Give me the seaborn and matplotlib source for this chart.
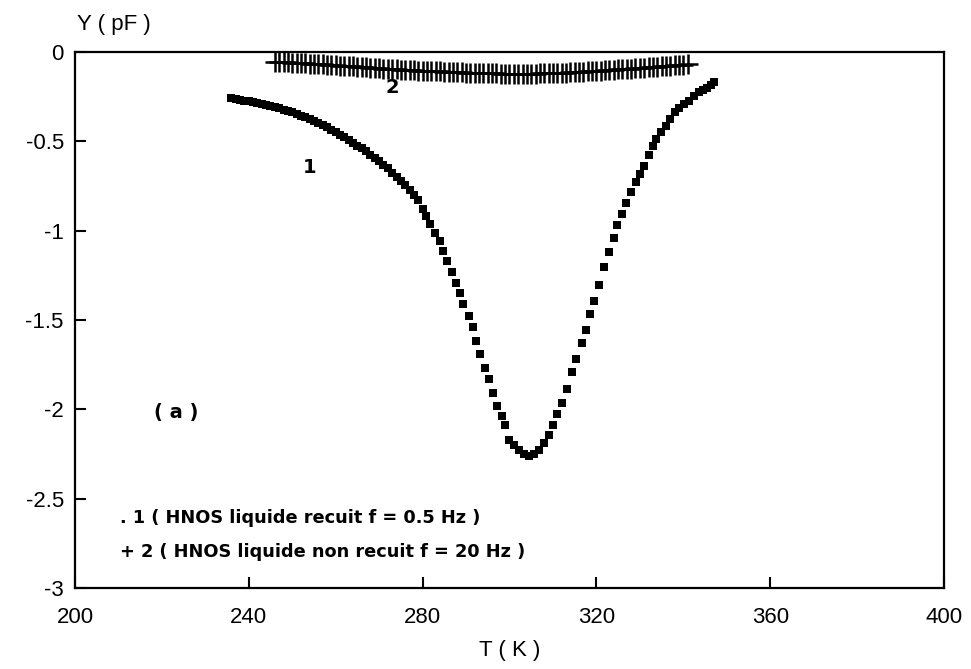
import matplotlib
matplotlib.use("Agg")
import matplotlib.pyplot as plt
import seaborn as sns
import pandas as pd

# ---- data ----
T1 = [236, 237, 238, 239, 240, 241, 242, 243, 244, 245, 246, 247, 248, 249, 250,
      251, 252, 253, 254, 255, 256, 257, 258, 259, 260, 261, 262, 263, 264, 265,
      266, 267, 268, 269, 270, 271, 272, 273, 274, 275, 276, 277, 278, 279,
      280.2, 280.9, 281.8, 282.8, 283.9, 284.8, 285.7, 286.7, 287.6, 288.5,
      289.4, 290.6, 291.5, 292.2, 293.1, 294.3, 295.2, 296.1, 297.2, 298.2,
      298.9, 300.0, 301.1, 302.1, 303.4, 304.6, 305.7, 306.9, 308.0, 309.2,
      310.1, 311.0, 312.2, 313.3, 314.5, 315.4, 316.6, 317.5, 318.6, 319.5,
      320.7, 321.8, 323.0, 324.1, 324.8, 326.0, 326.9, 328.0, 329.2, 330.1,
      331.0, 332.0, 333.1, 333.8, 334.9, 336.1, 337.0, 338.2, 339.1, 340.2,
      341.4, 342.5, 343.7, 344.6, 345.5, 346.3, 347.1]
Y1 = [-0.260, -0.265, -0.270, -0.272, -0.276, -0.280, -0.285, -0.290, -0.295, -0.300,
      -0.307, -0.315, -0.322, -0.330, -0.338, -0.347, -0.356, -0.365, -0.375, -0.386,
      -0.397, -0.409, -0.422, -0.435, -0.449, -0.463, -0.478, -0.493, -0.508, -0.524,
      -0.540, -0.557, -0.574, -0.591, -0.610, -0.630, -0.652, -0.675, -0.698, -0.722,
      -0.747, -0.773, -0.800, -0.830,
      -0.877, -0.916, -0.961, -1.011, -1.056, -1.112, -1.168, -1.229, -1.291, -1.347,
      -1.408, -1.475, -1.537, -1.615, -1.688, -1.766, -1.828, -1.909, -1.981, -2.037,
      -2.087, -2.171, -2.199, -2.227, -2.249, -2.260, -2.249, -2.227, -2.188, -2.143,
      -2.087, -2.026, -1.964, -1.886, -1.793, -1.720, -1.630, -1.558, -1.468, -1.396,
      -1.306, -1.205, -1.120, -1.041, -0.969, -0.907, -0.845, -0.784, -0.728, -0.683,
      -0.638, -0.576, -0.526, -0.487, -0.447, -0.414, -0.374, -0.335, -0.313, -0.290,
      -0.273, -0.245, -0.222, -0.212, -0.200, -0.185, -0.167]

T2 = list(range(246, 342))
Y2 = [-0.055, -0.056, -0.058, -0.058, -0.060, -0.061, -0.062, -0.064, -0.065, -0.066,
      -0.068, -0.069, -0.071, -0.072, -0.074, -0.076, -0.077, -0.079, -0.081, -0.083,
      -0.085, -0.086, -0.088, -0.090, -0.091, -0.093, -0.094, -0.096, -0.097, -0.099,
      -0.100, -0.101, -0.103, -0.104, -0.105, -0.106, -0.107, -0.108, -0.109, -0.110,
      -0.112, -0.113, -0.113, -0.114, -0.115, -0.116, -0.117, -0.118, -0.118, -0.119,
      -0.120, -0.120, -0.121, -0.121, -0.121, -0.122, -0.122, -0.122, -0.121, -0.121,
      -0.121, -0.120, -0.119, -0.119, -0.118, -0.117, -0.116, -0.115, -0.113, -0.112,
      -0.111, -0.110, -0.108, -0.107, -0.105, -0.104, -0.102, -0.101, -0.099, -0.098,
      -0.096, -0.095, -0.093, -0.091, -0.090, -0.088, -0.086, -0.084, -0.082, -0.081,
      -0.079, -0.077, -0.075, -0.073, -0.071, -0.070]

x_ticks = [200, 240, 280, 320, 360, 400]
y_ticks = [0, -0.5, -1, -1.5, -2, -2.5, -3]
y_tick_labels = ["0", "-0.5", "-1", "-1.5", "-2", "-2.5", "-3"]

legend_lines = [". 1 ( HNOS liquide recuit f = 0.5 Hz )",
                "+ 2 ( HNOS liquide non recuit f = 20 Hz )"]

# ---- plot ----
sns.set_theme(style="white")
plt.rcParams["font.family"] = ["Liberation Sans", "DejaVu Sans"]
plt.rcParams["axes.unicode_minus"] = False
plt.rcParams["text.color"] = "black"
plt.rcParams["axes.labelcolor"] = "black"
plt.rcParams["xtick.color"] = "black"
plt.rcParams["ytick.color"] = "black"

fig = plt.figure(figsize=(9.71, 6.69), dpi=100)
ax = fig.add_axes([0.0772, 0.1211, 0.8950, 0.8012])

df1 = pd.DataFrame({"T": T1, "Y": Y1})
df2 = pd.DataFrame({"T": T2, "Y": Y2})

sns.scatterplot(data=df1, x="T", y="Y", ax=ax, marker="s", s=28, color="black",
                linewidth=0, clip_on=False, zorder=3)
sns.scatterplot(data=df2, x="T", y="Y", ax=ax, marker="+", s=200, color="black",
                linewidth=1.8, clip_on=False, zorder=3)

ax.set_xlim(200, 400)
ax.set_ylim(-3, 0)
ax.set_xticks(x_ticks)
ax.set_xticklabels([str(v) for v in x_ticks])
ax.set_yticks(y_ticks)
ax.set_yticklabels(y_tick_labels)

for sp in ax.spines.values():
    sp.set_visible(True)
    sp.set_color("black")
    sp.set_linewidth(1.6)

ax.tick_params(axis="both", direction="in", length=8, width=1.5, colors="black",
               labelcolor="black", labelsize=16, top=False, right=False,
               bottom=True, left=True)
ax.tick_params(axis="x", pad=14)
ax.tick_params(axis="y", pad=8)

ax.set_xlabel("T ( K )", fontsize=16, labelpad=8, color="black")
ax.set_ylabel("")
fig.text(0.079, 0.964, "Y ( pF )", fontsize=16, ha="left", va="center", color="black")

bold_font = ["DejaVu Sans"]
ax.text(254.0, -0.644, "1", fontsize=14, fontweight="bold", family=bold_font,
        ha="center", va="center", color="black")
ax.text(273.1, -0.20, "2", fontsize=14, fontweight="bold", family=bold_font,
        ha="center", va="center", color="black")
ax.text(223.2, -2.017, "( a )", fontsize=14, fontweight="bold", family=bold_font,
        ha="center", va="center", color="black")

ax.text(210.3, -2.61, legend_lines[0], fontsize=12.8, fontweight="bold",
        family=bold_font, ha="left", va="center", color="black")
ax.text(210.3, -2.80, legend_lines[1], fontsize=12.8, fontweight="bold",
        family=bold_font, ha="left", va="center", color="black")

ax.grid(False)
fig.savefig("out.png", dpi=100, facecolor="white")
